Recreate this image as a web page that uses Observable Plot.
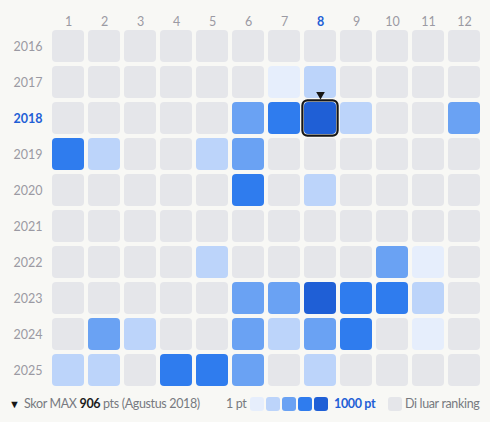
<!DOCTYPE html>
<html><head><meta charset="utf-8">
<script src="https://cdn.jsdelivr.net/npm/d3@7"></script>
<script src="https://cdn.jsdelivr.net/npm/@observablehq/plot@0.6"></script>
<style>
html,body{margin:0;padding:0;background:#f8f8f5;}
body{width:490px;height:422px;overflow:hidden;font-family:Lato,"Noto Sans",sans-serif;}
#chart{position:relative;width:490px;}
#legend{position:relative;width:490px;height:30px;font-size:12.5px;letter-spacing:-0.35px;color:#777a80;}
#legend span{position:absolute;top:4px;white-space:nowrap;line-height:16px;}
.sw{position:absolute;top:5px;width:14px;height:14px;border-radius:3px;}
</style></head>
<body>
<div id="chart"></div>
<div id="legend"></div>
<script>
const months = [1,2,3,4,5,6,7,8,9,10,11,12];
const years = [2016,2017,2018,2019,2020,2021,2022,2023,2024,2025];
// level per month (0 = di luar ranking, 1..5 = score bins from 1 pt to 1000 pt)
const levels2016 = [0,0,0,0,0,0,0,0,0,0,0,0];
const levels2017 = [0,0,0,0,0,0,1,2,0,0,0,0];
const levels2018 = [0,0,0,0,0,3,4,5,2,0,0,3];
const levels2019 = [4,2,0,0,2,3,0,0,0,0,0,0];
const levels2020 = [0,0,0,0,0,4,0,2,0,0,0,0];
const levels2021 = [0,0,0,0,0,0,0,0,0,0,0,0];
const levels2022 = [0,0,0,0,2,0,0,0,0,3,1,0];
const levels2023 = [0,0,0,0,0,3,3,5,4,4,2,0];
const levels2024 = [0,3,2,0,0,3,2,3,4,0,1,0];
const levels2025 = [2,2,0,4,4,3,0,2,0,0,0,0];
const levelRows = [levels2016,levels2017,levels2018,levels2019,levels2020,levels2021,levels2022,levels2023,levels2024,levels2025];
const maxScore = 906, maxMonth = 8, maxYear = 2018, maxMonthName = "Agustus";
const palette = ["#e5e6ea","#e6eefc","#bcd4fa","#6aa2f3","#2f7cee","#1f5fd6"];
const blue = "#1f5fd6", gray = "#9b9aa3";

const cells = [];
years.forEach((y,i) => months.forEach((m,j) => cells.push({year:y, month:m, level:levelRows[i][j]})));

const plot = Plot.plot({
  width: 490, height: 392,
  marginLeft: 52, marginRight: 10, marginTop: 30, marginBottom: 6,
  style: {background: "transparent", fontFamily: "Lato, 'Noto Sans', sans-serif"},
  x: {type: "band", domain: months, paddingInner: 4/36, paddingOuter: 0, axis: null},
  y: {type: "band", domain: years, paddingInner: 4/36, paddingOuter: 0, axis: null},
  color: {type: "ordinal", domain: [0,1,2,3,4,5], range: palette},
  marks: [
    Plot.cell(cells, {x: "month", y: "year", fill: "level", rx: 4}),
    Plot.cell(cells.filter(d => d.month === maxMonth && d.year === maxYear),
      {x: "month", y: "year", fill: "none", stroke: "#161616", strokeWidth: 2.2, rx: 5, inset: -1.6}),
    Plot.dot(cells.filter(d => d.month === maxMonth && d.year === maxYear),
      {x: "month", y: "year", symbol: "triangle", rotate: 180, r: 3.2, fill: "#161616", dy: -24}),
    Plot.text(months.filter(m => m !== maxMonth), {x: d => d, text: d => String(d), frameAnchor: "top", dy: -13, fill: gray, fontSize: 12.5}),
    Plot.text([maxMonth], {x: d => d, text: d => String(d), frameAnchor: "top", dy: -13, fill: blue, fontSize: 12.5, fontWeight: "bold"}),
    Plot.text(years.filter(y => y !== maxYear), {y: d => d, text: d => String(d), frameAnchor: "left", dx: -10, textAnchor: "end", fill: gray, fontSize: 12.5}),
    Plot.text([maxYear], {y: d => d, text: d => String(d), frameAnchor: "left", dx: -10, textAnchor: "end", fill: blue, fontSize: 12.5, fontWeight: "bold"})
  ]
});
document.getElementById("chart").appendChild(plot);

const lg = document.getElementById("legend");
lg.innerHTML =
  `<span style="left:9px;font-size:11px;color:#161616;top:4px">▼</span>` +
  `<span style="left:24px">Skor MAX <b style="color:#1c1c1c">${maxScore}</b> pts (${maxMonthName} ${maxYear})</span>` +
  `<span style="left:226px">1 pt</span>` +
  palette.slice(1).map((c,i) => `<div class="sw" style="left:${250+i*16}px;background:${c}"></div>`).join("") +
  `<span style="left:334px;color:${blue};font-weight:bold">1000 pt</span>` +
  `<div class="sw" style="left:388px;background:${palette[0]}"></div>` +
  `<span style="left:405px">Di luar ranking</span>`;
</script>
</body></html>
